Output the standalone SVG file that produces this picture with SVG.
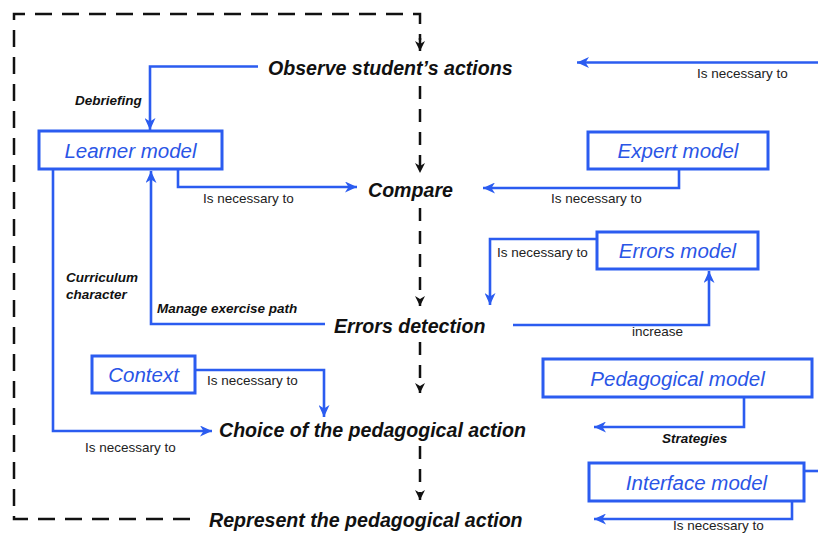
<svg xmlns="http://www.w3.org/2000/svg" width="818" height="533" viewBox="0 0 818 533">
<style>
.bg{fill:#ffffff}
.box{fill:#ffffff;stroke:#2b5cf0;stroke-width:3}
.blbl{font-family:"Liberation Sans",Arial,sans-serif;font-style:italic;font-size:20.5px;fill:#2a55e6;text-anchor:middle}
.main{font-family:"Liberation Sans",Arial,sans-serif;font-style:italic;font-weight:bold;font-size:19.6px;fill:#111111}
.small{font-family:"Liberation Sans",Arial,sans-serif;font-size:13.5px;fill:#222222}
.em{font-family:"Liberation Sans",Arial,sans-serif;font-style:italic;font-weight:bold;font-size:13.5px;fill:#111111}
.bl{fill:none;stroke:#2b5cf0;stroke-width:2.6;marker-end:url(#ab)}
.bln{fill:none;stroke:#2b5cf0;stroke-width:2.6}
.dash{fill:none;stroke:#111111;stroke-width:2.5;stroke-dasharray:17 10}
.dv{fill:none;stroke:#111111;stroke-width:2.5;stroke-dasharray:13 10;marker-end:url(#ak)}
</style>
<defs>
<marker id="ab" markerUnits="userSpaceOnUse" markerWidth="13" markerHeight="11" refX="12" refY="5.5" orient="auto">
<path d="M0,0 L12,5.5 L0,11 L3.5,5.5 z" fill="#2b5cf0"/>
</marker>
<marker id="ak" markerUnits="userSpaceOnUse" markerWidth="11" markerHeight="10" refX="10" refY="5" orient="auto">
<path d="M0,0 L10,5 L0,10 L3,5 z" fill="#111111"/>
</marker>
</defs>
<rect class="bg" x="0" y="0" width="818" height="533"/>

<g id="connectors">
<path class="dash" d="M190,519 L14,519 L14,14 L420,14 L420,40"/>
<path class="dv" d="M420,38 L420,51"/>
<path class="dv" d="M420,86 L420,173"/>
<path class="dv" d="M420,208 L420,306"/>
<path class="dv" d="M420,342 L420,393"/>
<path class="dv" d="M420,446 L420,500"/>
<path class="bl" d="M258,66.5 L150,66.5 L150,130"/>
<path class="bl" d="M178,169 L178,187 L357,187"/>
<path class="bl" d="M679,169 L679,188 L483,188"/>
<path class="bl" d="M597,239 L490,239 L490,305"/>
<path class="bl" d="M513,325 L709,325 L709,271"/>
<path class="bl" d="M325,324 L151,324 L151,171"/>
<path class="bl" d="M53,169 L53,431 L212,431"/>
<path class="bl" d="M195,370 L324,370 L324,417"/>
<path class="bl" d="M744,397 L744,427 L594,427"/>
<path class="bl" d="M792,501 L792,519 L594,519"/>
<path class="bln" d="M804,471 L818,471"/>
<path class="bl" d="M818,62.5 L577,62.5"/>
<text class="em" x="75" y="105">Debriefing</text>
<text class="small" x="203" y="203">Is necessary to</text>
<text class="small" x="551" y="203">Is necessary to</text>
<text class="small" x="497" y="257">Is necessary to</text>
<text class="small" x="632" y="336">increase</text>
<text class="em" x="157" y="313">Manage exercise path</text>
<text class="em" x="66" y="282">Curriculum</text>
<text class="em" x="66" y="299">character</text>
<text class="small" x="85" y="452">Is necessary to</text>
<text class="small" x="207" y="385">Is necessary to</text>
<text class="em" x="662" y="443">Strategies</text>
<text class="small" x="673" y="529.5">Is necessary to</text>
<text class="small" x="697" y="78">Is necessary to</text>
</g>

<g id="observe"><text class="main" x="268" y="75">Observe student’s actions</text></g>
<g id="compare"><text class="main" x="368" y="197">Compare</text></g>
<g id="errors-detection"><text class="main" x="334" y="333">Errors detection</text></g>
<g id="choice"><text class="main" x="219" y="437">Choice of the pedagogical action</text></g>
<g id="represent"><text class="main" x="209" y="527">Represent the pedagogical action</text></g>

<g id="learner-model"><rect class="box" x="39" y="131" width="183" height="38"/><text class="blbl" x="130.5" y="157.5">Learner model</text></g>
<g id="expert-model"><rect class="box" x="588" y="132" width="180" height="37"/><text class="blbl" x="678" y="158">Expert model</text></g>
<g id="errors-model"><rect class="box" x="597" y="232" width="161" height="37"/><text class="blbl" x="677.5" y="258">Errors model</text></g>
<g id="context"><rect class="box" x="92" y="356" width="103" height="37"/><text class="blbl" x="143.5" y="382">Context</text></g>
<g id="pedagogical-model"><rect class="box" x="543" y="359" width="269" height="38"/><text class="blbl" x="677.5" y="385.5">Pedagogical model</text></g>
<g id="interface-model"><rect class="box" x="589" y="463" width="215" height="38"/><text class="blbl" x="696.5" y="489.5">Interface model</text></g>
</svg>
